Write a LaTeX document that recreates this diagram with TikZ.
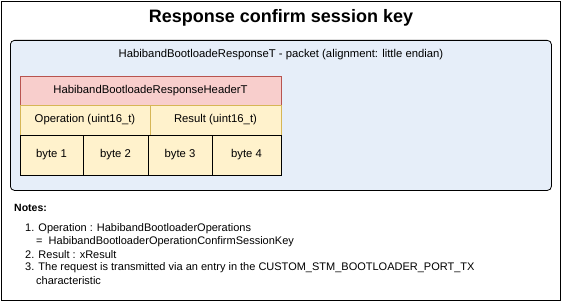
\documentclass[tikz,border=0pt]{standalone}
\usepackage{fontspec}
\setmainfont{Liberation Sans}
\usetikzlibrary{positioning}
\definecolor{pktblue}{HTML}{E6EEF9}
\definecolor{hdrred}{HTML}{F8CECC}
\definecolor{hdrredline}{HTML}{B85450}
\definecolor{fieldyellow}{HTML}{FFF2CC}
\definecolor{fieldline}{HTML}{D6B656}
\tikzstyle{pktbox} = [rectangle, rounded corners=4pt, anchor=north west, minimum width=541pt, minimum height=150pt,
  draw=black, fill=pktblue, line width=0.8pt]
\tikzstyle{hdrbox} = [rectangle, anchor=north west, minimum width=261pt, minimum height=29pt, outer sep=0pt,
  draw=hdrredline, fill=hdrred, font=\fontsize{11.3}{13}\selectfont, line width=0.6pt]
\tikzstyle{fieldbox} = [rectangle, anchor=north west, minimum height=30pt, outer sep=0pt,
  draw=fieldline, fill=fieldyellow, font=\fontsize{11.3}{13}\selectfont, line width=0.6pt]
\tikzstyle{bytebox} = [rectangle, anchor=north west, minimum height=40pt, outer sep=0pt,
  draw=black, fill=fieldyellow, font=\fontsize{11.3}{13}\selectfont, line width=0.8pt]
\tikzstyle{note} = [anchor=west, inner sep=0pt, font=\fontsize{11}{13}\selectfont]

\begin{document}
\begin{tikzpicture}[x=1pt, y=-1pt]
  \useasboundingbox (0,0) rectangle (562,302);
  \node (frame) [draw, line width=1pt, anchor=north west, minimum width=559pt, minimum height=299pt] at (1,1) {};
  \node (title) [font=\fontsize{18}{21}\selectfont\bfseries] at (281,18) {Response confirm session key};

  % packet and its fields
  \node (pkt) [pktbox] at (10,40) {};
  \node (pktlbl) [font=\fontsize{11.3}{13}\selectfont] at (281,55) {HabibandBootloadeResponseT - packet (alignment: little endian)};
  \node (hdr) [hdrbox] at (20,76) {HabibandBootloadeResponseHeaderT};
  \node (op)  [fieldbox, minimum width=130pt] at (20,105) {Operation (uint16\_t)};
  \node (res) [fieldbox, minimum width=131pt, right=0pt of op.north east, anchor=north west] {Result (uint16\_t)};
  \node (b1) [bytebox, minimum width=63pt] at (20,135) {byte 1};
  \node (b2) [bytebox, minimum width=65pt, right=0pt of b1.north east, anchor=north west] {byte 2};
  \node (b3) [bytebox, minimum width=64pt, right=0pt of b2.north east, anchor=north west] {byte 3};
  \node (b4) [bytebox, minimum width=69pt, right=0pt of b3.north east, anchor=north west] {byte 4};

  % notes
  \node (notes) [note, font=\fontsize{10.5}{13}\selectfont\bfseries] at (14,208) {Notes:};
  \node (n1) [note] at (25,229) {1. Operation : HabibandBootloaderOperations};
  \node (n1b) [note] at (36,242) {=\ \ HabibandBootloaderOperationConfirmSessionKey};
  \node (n2) [note] at (25,255) {2. Result : xResult};
  \node (n3) [note] at (25,268) {3. The request is transmitted via an entry in the CUSTOM\_STM\_BOOTLOADER\_PORT\_TX};
  \node (n3b) [note] at (36,281) {characteristic};
\end{tikzpicture}
\end{document}
